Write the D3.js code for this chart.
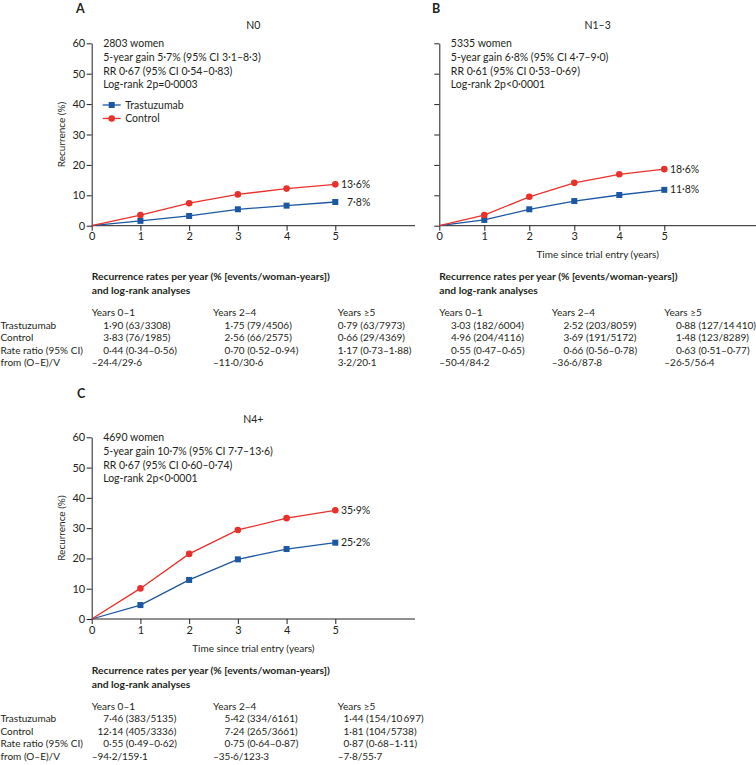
<!DOCTYPE html>
<html><head><meta charset="utf-8">
<script src="https://cdn.jsdelivr.net/npm/d3@7"></script>
<style>
body{margin:0;background:#fff}
svg{display:block}
text{font-family:Lato,"Open Sans",sans-serif;fill:#231f20}
</style>
</head><body>
<svg id="chart" width="756" height="765"></svg>
<script>
// ---------------- DATA ----------------
const years = [0, 1, 2, 3, 4, 5];
const xTicks = [0, 1, 2, 3, 4, 5];
const yTicks = [0, 10, 20, 30, 40, 50, 60];
const seriesNames = ["Trastuzumab", "Control"];

const trastN0 = [0, 1.6, 3.2, 5.4, 6.6, 7.8];
const controlN0 = [0, 3.5, 7.4, 10.3, 12.2, 13.6];
const trastN13 = [0, 1.9, 5.4, 8.1, 10.1, 11.8];
const controlN13 = [0, 3.5, 9.5, 14.1, 16.9, 18.6];
const trastN4 = [0, 4.6, 12.9, 19.7, 23.1, 25.2];
const controlN4 = [0, 10.1, 21.5, 29.4, 33.3, 35.9];

const endLabelsN0 = ["7·8%", "13·6%"];
const endLabelsN13 = ["11·8%", "18·6%"];
const endLabelsN4 = ["25·2%", "35·9%"];

const infoN0 = ["2803 women", "5-year gain 5·7% (95% CI 3·1–8·3)", "RR 0·67 (95% CI 0·54–0·83)", "Log-rank 2p=0·0003"];
const infoN13 = ["5335 women", "5-year gain 6·8% (95% CI 4·7–9·0)", "RR 0·61 (95% CI 0·53–0·69)", "Log-rank 2p<0·0001"];
const infoN4 = ["4690 women", "5-year gain 10·7% (95% CI 7·7–13·6)", "RR 0·67 (95% CI 0·60–0·74)", "Log-rank 2p<0·0001"];

const tableTitle = ["Recurrence rates per year (% [events/woman-years])", "and log-rank analyses"];
const tableHeaders = ["Years 0–1", "Years 2–4", "Years ≥5"];
const tableRowLabels = ["Trastuzumab", "Control", "Rate ratio (95% CI)", "from (O–E)/V"];

const tableN0 = [
  ["1·90 (63/3308)", "1·75 (79/4506)", "0·79 (63/7973)"],
  ["3·83 (76/1985)", "2·56 (66/2575)", "0·66 (29/4369)"],
  ["0·44 (0·34–0·56)", "0·70 (0·52–0·94)", "1·17 (0·73–1·88)"],
  ["–24·4/29·6", "–11·0/30·6", "3·2/20·1"]
];
const tableN13 = [
  ["3·03 (182/6004)", "2·52 (203/8059)", "0·88 (127/14\u2009410)"],
  ["4·96 (204/4116)", "3·69 (191/5172)", "1·48 (123/8289)"],
  ["0·55 (0·47–0·65)", "0·66 (0·56–0·78)", "0·63 (0·51–0·77)"],
  ["–50·4/84·2", "–36·6/87·8", "–26·5/56·4"]
];
const tableN4 = [
  ["7·46 (383/5135)", "5·42 (334/6161)", "1·44 (154/10\u2009697)"],
  ["12·14 (405/3336)", "7·24 (265/3661)", "1·81 (104/5738)"],
  ["0·55 (0·49–0·62)", "0·75 (0·64–0·87)", "0·87 (0·68–1·11)"],
  ["–94·2/159·1", "–35·6/123·3", "–7·8/55·7"]
];

// ---------------- LAYOUT ----------------
const RED = "#e8312b", BLUE = "#1b57a3", INK = "#231f20";
const svg = d3.select("#chart");

const panels = [
  {letter: "A", title: "N0", trast: trastN0, control: controlN0, ends: endLabelsN0, info: infoN0, table: tableN0,
   x0: 91.7, x5: 335.3, xEnd: 415, yTop: 43.3, yBot: 225.7, yLabels: true, legend: true, xTitle: false,
   letterX: 76, letterY: 12.5, rowLabels: true, colsAt: [0, 2.49, 5.05]},
  {letter: "B", title: "N1–3", trast: trastN13, control: controlN13, ends: endLabelsN13, info: infoN13, table: tableN13,
   x0: 439.3, x5: 664.3, xEnd: 756, yTop: 43.3, yBot: 225.7, yLabels: false, legend: false, xTitle: true,
   letterX: 432, letterY: 12.5, rowLabels: false, colsAt: [0, 2.5, 5.0]},
  {letter: "C", title: "N4+", trast: trastN4, control: controlN4, ends: endLabelsN4, info: infoN4, table: tableN4,
   x0: 91.7, x5: 335.3, xEnd: 415, yTop: 437.3, yBot: 619, yLabels: true, legend: false, xTitle: true,
   letterX: 77, letterY: 398, rowLabels: true, colsAt: [0, 2.49, 5.05]}
];

function measure(str, size, weight) {
  const t = svg.append("text").attr("font-size", size).attr("font-weight", weight || 400).text(str);
  const w = t.node().getComputedTextLength();
  t.remove();
  return w;
}

panels.forEach(p => {
  const g = svg.append("g");
  const x = d3.scaleLinear().domain([0, 5]).range([p.x0, p.x5]);
  const y = d3.scaleLinear().domain([0, 60]).range([p.yBot, p.yTop]);

  g.append("text").attr("x", p.letterX).attr("y", p.letterY).attr("font-size", 12.5).attr("font-weight", 700).text(p.letter);
  g.append("text").attr("x", (p.x0 + p.xEnd) / 2).attr("y", p.yTop - 14.5).attr("text-anchor", "middle")
    .attr("font-size", 10.5).text(p.title);

  const yAxis = d3.axisLeft(y).tickValues(yTicks).tickSize(5).tickSizeOuter(0).tickPadding(1.5)
    .tickFormat(p.yLabels ? d3.format("d") : () => "");
  const ya = g.append("g").attr("transform", `translate(${p.x0},0)`).call(yAxis);
  ya.selectAll("text").attr("font-size", 11).attr("font-family", null).attr("fill", INK);
  ya.selectAll("line,path").attr("stroke", INK).attr("stroke-width", 1);

  const xAxis = d3.axisBottom(x).tickValues(xTicks).tickSize(5).tickSizeOuter(0).tickPadding(2).tickFormat(d3.format("d"));
  const xa = g.append("g").attr("transform", `translate(0,${p.yBot})`).call(xAxis);
  xa.select(".domain").remove();
  xa.append("line").attr("x1", p.x0).attr("x2", p.xEnd).attr("y1", 0).attr("y2", 0).attr("stroke", INK).attr("stroke-width", 1);
  xa.selectAll("text").attr("font-size", 11).attr("font-family", null).attr("fill", INK);
  xa.selectAll(".tick line").attr("stroke", INK);

  if (p.yLabels) {
    const cy = (p.yTop + p.yBot) / 2;
    g.append("text").attr("transform", `translate(${p.x0 - 27},${cy}) rotate(-90)`).attr("text-anchor", "middle")
      .attr("font-size", 10).text("Recurrence (%)");
  }
  if (p.xTitle) {
    g.append("text").attr("x", (p.x0 + p.xEnd) / 2).attr("y", p.yBot + 32.5).attr("text-anchor", "middle")
      .attr("font-size", 10).text("Time since trial entry (years)");
  }

  p.info.forEach((s, i) => {
    g.append("text").attr("x", p.x0 + 11.5).attr("y", p.yTop + 3.8 + i * 13.7).attr("font-size", 10.5).text(s);
  });

  const line = d3.line().x((d, i) => x(years[i])).y(d => y(d));
  const series = [{vals: p.trast, color: BLUE, shape: "square"}, {vals: p.control, color: RED, shape: "circle"}];
  series.forEach((s, si) => {
    g.append("path").datum(s.vals).attr("d", line).attr("fill", "none").attr("stroke", s.color).attr("stroke-width", 1.3);
    const pts = s.vals.map((v, i) => ({x: years[i], v})).filter(d => d.x > 0);
    if (s.shape === "circle") {
      g.selectAll(null).data(pts).enter().append("circle")
        .attr("cx", d => x(d.x)).attr("cy", d => y(d.v)).attr("r", 3.3).attr("fill", s.color);
    } else {
      g.selectAll(null).data(pts).enter().append("rect")
        .attr("x", d => x(d.x) - 3).attr("y", d => y(d.v) - 3).attr("width", 6).attr("height", 6).attr("fill", s.color);
    }
    g.append("text").attr("x", x(5) + 35).attr("y", y(s.vals[5]) + 3.6).attr("text-anchor", "end")
      .attr("font-size", 10.5).text(p.ends[si]);
  });

  if (p.legend) {
    const lx = p.x0 + 11, ly = [105, 118.5];
    series.forEach((s, si) => {
      g.append("line").attr("x1", lx).attr("x2", lx + 18).attr("y1", ly[si]).attr("y2", ly[si]).attr("stroke", s.color).attr("stroke-width", 1.3);
      if (s.shape === "circle") g.append("circle").attr("cx", lx + 9).attr("cy", ly[si]).attr("r", 3.3).attr("fill", s.color);
      else g.append("rect").attr("x", lx + 6).attr("y", ly[si] - 3).attr("width", 6).attr("height", 6).attr("fill", s.color);
      g.append("text").attr("x", lx + 22.5).attr("y", ly[si] + 3.7).attr("font-size", 10.5).text(seriesNames[si]);
    });
  }

  const fs = 10;
  const tTop = p.yBot + 51;
  tableTitle.forEach((s, i) => {
    g.append("text").attr("x", p.x0).attr("y", tTop + 3.6 + i * 14).attr("font-size", 10.3).attr("font-weight", 700).text(s);
  });
  const hdrY = p.yBot + 87;
  const rowYs = [0, 1, 2, 3].map(i => p.yBot + 99.8 + i * 12.4);
  p.colsAt.forEach((c, ci) => {
    const cx = x(c);
    g.append("text").attr("x", cx).attr("y", hdrY + 3.5).attr("font-size", fs).text(tableHeaders[ci]);
    const cells = p.table.map(r => r[ci]);
    const pre = cells.map(s => measure(s.split("·")[0], fs));
    const mx = d3.max(pre);
    cells.forEach((s, ri) => {
      g.append("text").attr("x", cx + mx - pre[ri]).attr("y", rowYs[ri] + 3.5).attr("font-size", fs).text(s);
    });
  });
  if (p.rowLabels) {
    tableRowLabels.forEach((s, ri) => {
      g.append("text").attr("x", 0.5).attr("y", rowYs[ri] + 3.5).attr("font-size", fs).text(s);
    });
  }
});
</script>
</body></html>
